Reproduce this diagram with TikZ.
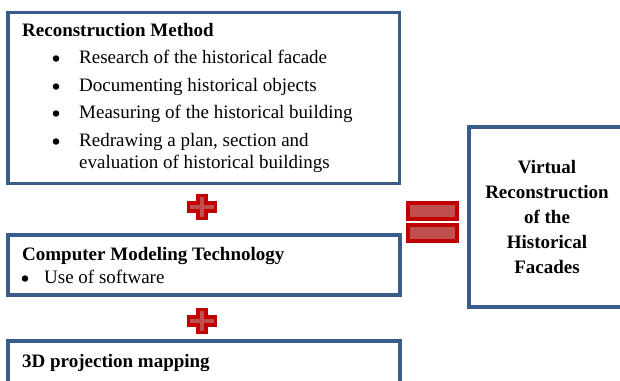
\documentclass[tikz,border=0pt]{standalone}
\usepackage{fontspec}
\setmainfont{Liberation Serif}
\definecolor{boxblue}{HTML}{385D8A}
\definecolor{signred}{HTML}{C00000}
\definecolor{signfill}{HTML}{C0504D}
\begin{document}
\begin{tikzpicture}[x=1pt, y=-1pt,
	panel/.style={draw=boxblue, line width=3.5pt, fill=white, inner sep=0pt},
	itemtext/.style={anchor=base west, inner sep=0pt, font=\fontsize{19}{22}\selectfont},
	headtext/.style={itemtext, font=\fontsize{19}{22}\selectfont\bfseries},
	bulletmark/.style={circle, fill=black, inner sep=0pt, minimum size=6.5pt},
	plusmark/.style={draw=signred, fill=signfill, line width=3.5pt, line join=miter}]
			\useasboundingbox (0,0) rectangle (620,380);
			
			\node[panel, minimum width=391.5pt, minimum height=171pt] (method) at (203.75,98) {};
			\node[headtext] (methodhead) at (22,36) {Reconstruction Method};
			\node[bulletmark] (b1) at (56,58.5) {};
			\node[itemtext] (m1) at (79,63) {Research of the historical facade};
			\node[bulletmark] (b2) at (56,86.5) {};
			\node[itemtext] (m2) at (79,91) {Documenting historical objects};
			\node[bulletmark] (b3) at (56,113.5) {};
			\node[itemtext] (m3) at (79,118) {Measuring of the historical building};
			\node[bulletmark] (b4) at (56,141.5) {};
			\node[itemtext] (m4) at (79,146) {Redrawing a plan, section and};
			\node[itemtext] (m4b) at (79,168) {evaluation of historical buildings};
			
			\draw[plusmark] (202,207) ++(-4,-11.5) -- ++(8,0) -- ++(0,7.5) -- ++(9.5,0) -- ++(0,8) -- ++(-9.5,0) -- ++(0,7.5) -- ++(-8,0) -- ++(0,-7.5) -- ++(-9.5,0) -- ++(0,-8) -- ++(9.5,0) -- cycle;
			
			\node[panel, minimum width=392pt, minimum height=60pt] (model) at (204,265) {};
			\node[headtext] (modelhead) at (22,260) {Computer Modeling Technology};
			\node[bulletmark] (b5) at (25,278.5) {};
			\node[itemtext] (s1) at (44,283) {Use of software};
			
			\draw[plusmark] (202,321) ++(-4,-11.5) -- ++(8,0) -- ++(0,7.5) -- ++(9.5,0) -- ++(0,8) -- ++(-9.5,0) -- ++(0,7.5) -- ++(-8,0) -- ++(0,-7.5) -- ++(-9.5,0) -- ++(0,-8) -- ++(9.5,0) -- cycle;
			
			\node[panel, minimum width=392pt, minimum height=80pt] (mapping) at (204,381) {};
			\node[headtext] (mappinghead) at (22,367) {3D projection mapping};
			
			\draw[plusmark] (408,203) rectangle (457,219);
			\draw[plusmark] (408,225) rectangle (457,241);
			
			\node[panel, minimum width=156pt, minimum height=180pt, align=center, font=\fontsize{19}{25}\selectfont\bfseries] (result) at (547,217) {Virtual\\Reconstruction\\of the\\Historical\\Facades};
		
		\end{tikzpicture}
\end{document}
